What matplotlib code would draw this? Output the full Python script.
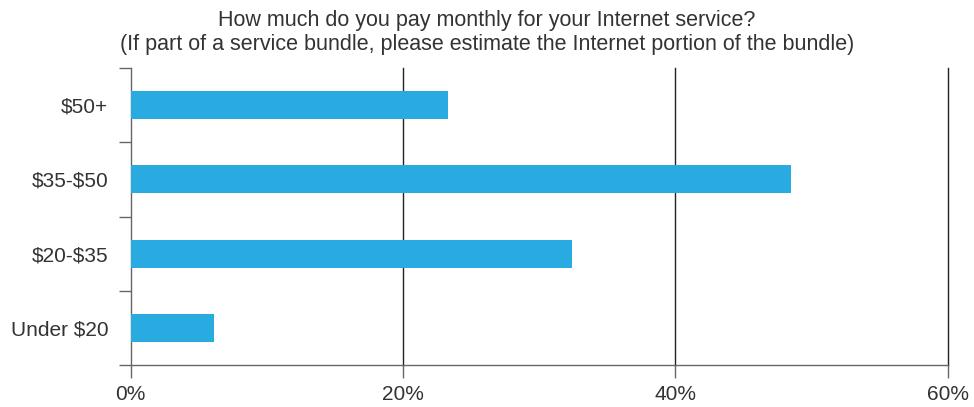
import matplotlib.pyplot as plt
import numpy as np

plt.rcParams['font.family'] = ['Liberation Sans', 'DejaVu Sans']
plt.rcParams['text.parse_math'] = False

# survey answers, top to bottom
categories = ['$50+', '$35-$50', '$20-$35', 'Under $20']
shares = [23.3, 48.5, 32.4, 6.1]
xticks = [0, 20, 40, 60]
xlabels = ['0%', '20%', '40%', '60%']

title = ('How much do you pay monthly for your Internet service?\n'
         '(If part of a service bundle, please estimate the Internet portion of the bundle)')

text_col = '#333333'
axis_col = '#666666'

fig = plt.figure(figsize=(9.74, 4.07), dpi=100)
ax = fig.add_axes([0.134, 0.103, 0.839, 0.730])

y = np.arange(len(categories))
ax.barh(y, shares, height=0.38, color='#29abe2', zorder=3)

ax.set_ylim(len(categories) - 0.5, -0.5)
ax.set_xlim(0, 60)

# vertical lines at each 20%
for v in xticks[1:]:
    ax.axvline(v, color='#222222', lw=1, zorder=2, clip_on=False)

ax.set_xticks(xticks)
ax.set_xticklabels(xlabels)
ax.set_yticks(y)
ax.set_yticklabels(categories)
ax.set_yticks(np.arange(-0.5, len(categories)), minor=True)

ax.tick_params(axis='x', length=9, width=1, color=axis_col, pad=5,
               labelsize=15, labelcolor=text_col)
ax.tick_params(axis='y', which='major', length=0, pad=16,
               labelsize=15, labelcolor=text_col)
ax.tick_params(axis='y', which='minor', length=9, width=1, color=axis_col)

for side in ['top', 'right']:
    ax.spines[side].set_visible(False)
for side in ['left', 'bottom']:
    ax.spines[side].set_color(axis_col)
    ax.spines[side].set_linewidth(1)

fig.text(0.5, 0.975, title, ha='center', va='top', fontsize=15.5,
         color=text_col, linespacing=1.15)

fig.savefig('out.png', dpi=100)
